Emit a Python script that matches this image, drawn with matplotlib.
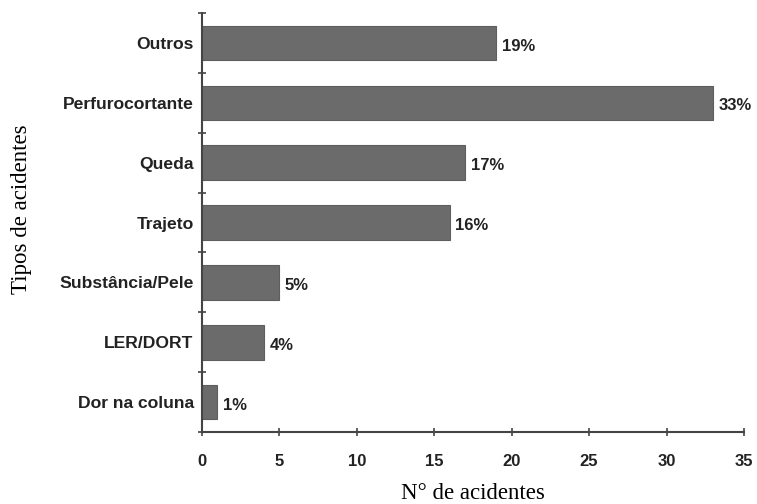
import matplotlib.pyplot as plt

categorias = ["Outros", "Perfurocortante", "Queda", "Trajeto",
              "Substância/Pele", "LER/DORT", "Dor na coluna"]
acidentes = [19, 33, 17, 16, 5, 4, 1]
rotulos = ["19%", "33%", "17%", "16%", "5%", "4%", "1%"]
xticks = [0, 5, 10, 15, 20, 25, 30, 35]

fig = plt.figure(figsize=(7.57, 5.04), dpi=100)
ax = fig.add_axes([0.2668, 0.1429, 0.7160, 0.8310])

pos = list(range(len(categorias)))[::-1]
ax.barh(pos, acidentes, height=0.58, color="#6b6b6b",
        edgecolor="#5e5e5e", linewidth=0.8)

for p, v, r in zip(pos, acidentes, rotulos):
    ax.text(v + 0.35, p - 0.05, r, va="center", ha="left",
            fontsize=12, fontweight="bold", family="Liberation Sans",
            color="#222222")

ax.set_xlim(0, 35)
ax.set_ylim(-0.5, len(categorias) - 0.5)
ax.set_xticks(xticks)
ax.set_xticklabels([str(t) for t in xticks], fontsize=12,
                   fontweight="bold", family="Liberation Sans",
                   color="#222222")
ax.set_yticks(pos)
ax.set_yticklabels(categorias, fontsize=12.6, fontweight="bold",
                   family="Liberation Sans", color="#222222")

# ticks between categories instead of at bar centers
ax.set_yticks([p + 0.5 for p in range(-1, len(categorias))], minor=True)
ax.tick_params(axis="y", which="major", length=0, pad=6)
ax.tick_params(axis="y", which="minor", length=6, direction="inout",
               color="#444444", width=1.2)
ax.tick_params(axis="x", length=6, direction="inout", color="#444444",
               width=1.2, pad=13)

for s in ["top", "right"]:
    ax.spines[s].set_visible(False)
for s in ["left", "bottom"]:
    ax.spines[s].set_color("#444444")
    ax.spines[s].set_linewidth(1.5)

ax.set_xlabel("N° de acidentes", family="Liberation Serif", fontsize=16.5,
              labelpad=10)
fig.text(0.028, 0.585, "Tipos de acidentes", family="Liberation Serif",
         fontsize=16.5, rotation=90, va="center", ha="center")

fig.savefig("out.png", dpi=100)
